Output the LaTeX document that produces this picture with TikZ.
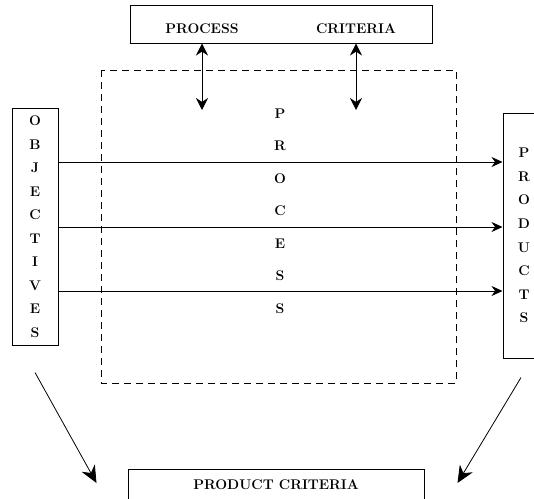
\documentclass[tikz,border=0pt]{standalone}
\usepackage{tikz}
\usetikzlibrary{arrows.meta, positioning}

\tikzset{
  box/.style={draw, line width=1pt, inner sep=0pt},
  lbl/.style={font=\fontsize{14}{16}\selectfont\bfseries},
  vtext/.style={align=center, font=\fontsize{14}{#1}\selectfont\bfseries},
  bigtip/.style={-{Stealth[length=17pt,width=15pt]}},
  midtip/.style={-{Stealth[length=11pt,width=10pt]}},
}

\begin{document}
\begin{tikzpicture}[>={Stealth[length=12pt,width=12pt]}, x=1pt, y=-1pt, line width=0.8pt]
  \clip (0,0) rectangle (534,498);

  % box on top with the process criteria
  \node[box, minimum width=302pt, minimum height=38pt] (pcrit) at (281,24) {};
  \node[lbl] (lproc) at (202,29) {PROCESS};
  \node[lbl] (lcrit) at (356,29) {CRITERIA};

  % dashed frame of the process
  \draw[dash pattern=on 7pt off 5pt] (101,70) rectangle (456,383);
  \node[vtext=32.5pt] (proc) at (280,211) {P\\R\\O\\C\\E\\S\\S};

  % objectives and products
  \node[box, vtext=23.5pt, minimum width=46pt, minimum height=237pt] (objectives) at (35,226.5)
    {O\\B\\J\\E\\C\\T\\I\\V\\E\\S};
  \node[box, vtext=23.6pt, minimum width=42pt, minimum height=245pt] (products) at (524,235.5)
    {P\\R\\O\\D\\U\\C\\T\\S};

  % box at the bottom with the product criteria
  \node[box, lbl, anchor=north, minimum width=296pt, inner ysep=10pt, text depth=20pt] (prodcrit)
    at (276,469) {PRODUCT CRITERIA};

  % arrows between the criteria and the process
  \coordinate (pa) at (0,110);
  \draw[<->] (pcrit.south -| lproc) -- (lproc |- pa);
  \draw[<->] (pcrit.south -| lcrit) -- (lcrit |- pa);

  % arrows from objectives to products
  \foreach \y [count=\i] in {162,227,291} {
    \coordinate (r\i) at (0,\y);
    \draw[midtip] (objectives.east |- r\i) -- (products.west |- r\i);
  }

  % arrows down to the product criteria
  \draw[bigtip] ([yshift=-27pt]objectives.south) -- ([xshift=-31pt, yshift=-14pt]prodcrit.north west);
  \draw[bigtip] ([xshift=-3pt, yshift=-19pt]products.south) -- ([xshift=33pt, yshift=-14pt]prodcrit.north east);
\end{tikzpicture}
\end{document}
